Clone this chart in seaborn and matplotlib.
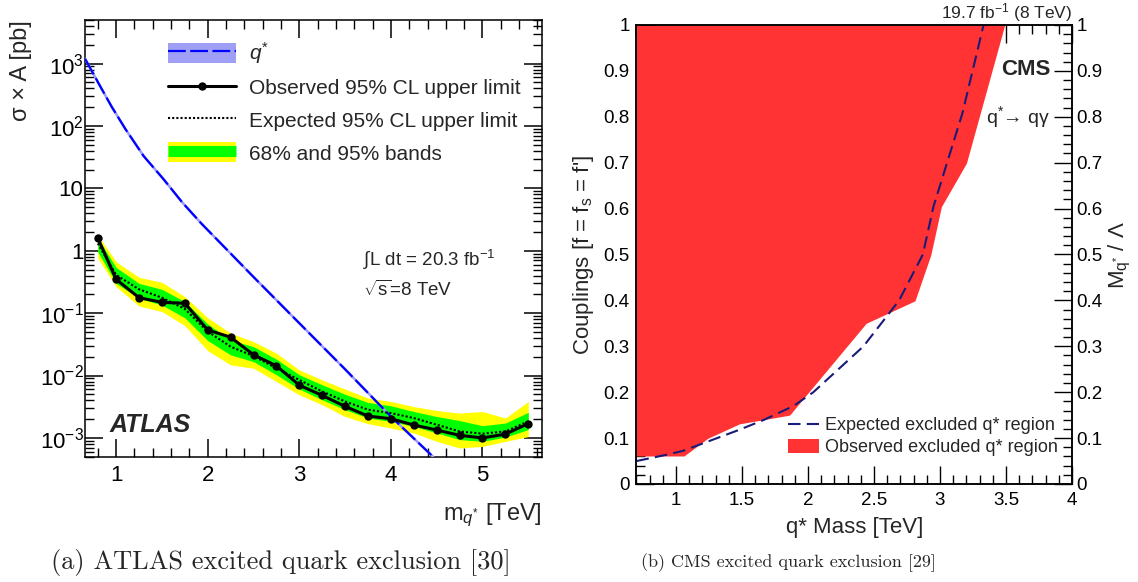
import numpy as np
import pandas as pd
import matplotlib
matplotlib.use('Agg')
import matplotlib.pyplot as plt
from matplotlib.lines import Line2D
from matplotlib.patches import Patch
from matplotlib.ticker import MultipleLocator, LogLocator, NullFormatter
import seaborn as sns

# ---- (a) ATLAS excited quark limits ----
mass_points = [0.8, 1.0, 1.25, 1.5, 1.75, 2.0, 2.25, 2.5, 2.75, 3.0,
               3.25, 3.5, 3.75, 4.0, 4.25, 4.5, 4.75, 5.0, 5.25, 5.5]
observed = [1.6, 0.348, 0.177, 0.149, 0.144, 0.0538, 0.0411, 0.0215, 0.0143, 0.0070,
            0.0048, 0.0032, 0.00224, 0.00203, 0.00161, 0.00134, 0.0011, 0.00100, 0.00115, 0.0017]
expected = [1.31, 0.41, 0.241, 0.177, 0.117, 0.0506, 0.0291, 0.0205, 0.0131, 0.0085,
            0.00555, 0.00384, 0.00283, 0.0025, 0.00208, 0.00163, 0.00127, 0.00117, 0.00127, 0.00184]
green_hi = [1.58, 0.54, 0.30, 0.241, 0.153, 0.067, 0.0372, 0.029, 0.0183, 0.0103,
            0.0071, 0.0050, 0.0037, 0.00327, 0.00265, 0.0022, 0.0019, 0.00157, 0.00173, 0.00257]
green_lo = [0.96, 0.30, 0.173, 0.135, 0.084, 0.0363, 0.0214, 0.0167, 0.0103, 0.00606,
            0.00408, 0.00283, 0.00208, 0.00184, 0.00153, 0.0012, 0.00094, 0.00088, 0.00103, 0.00136]
yellow_hi = [1.78, 0.667, 0.375, 0.312, 0.184, 0.084, 0.0477, 0.035, 0.0228, 0.0123,
             0.0085, 0.00606, 0.00435, 0.00384, 0.00318, 0.00275, 0.0025, 0.00265, 0.00208, 0.00384]
yellow_lo = [0.76, 0.265, 0.130, 0.106, 0.063, 0.025, 0.0148, 0.0131, 0.0080, 0.0049,
             0.0034, 0.0022, 0.00169, 0.00144, 0.0012, 0.00088, 0.00069, 0.00073, 0.00088, 0.00105]

theory_mass = [0.66, 0.81, 0.95, 1.10, 1.30, 1.52, 1.72, 1.93, 2.5, 3.0, 3.5, 4.0, 4.46]
theory_xsec = [1200, 477, 205, 90, 33, 13.9, 6.0, 2.74, 0.38, 0.069, 0.0126, 0.0022, 0.0005]

atlas_yticks = [1e-3, 1e-2, 1e-1, 1, 10, 1e2, 1e3]
atlas_ylabels = ['$10^{-3}$', '$10^{-2}$', '$10^{-1}$', '1', '10', '$10^{2}$', '$10^{3}$']
atlas_xticks = [1, 2, 3, 4, 5]

# ---- (b) CMS excited quark exclusion ----
obs_mass = [1.06, 1.24, 1.48, 1.86, 2.44, 2.81, 2.93, 3.01, 3.20, 3.49]
obs_coupling = [0.061, 0.0995, 0.131, 0.150, 0.350, 0.399, 0.499, 0.604, 0.699, 1.0]
exp_mass = [0.7, 0.9, 1.05, 1.46, 1.66, 1.89, 2.04, 2.42, 2.69, 2.87, 2.95, 3.17, 3.33]
exp_coupling = [0.050, 0.062, 0.072, 0.116, 0.139, 0.170, 0.200, 0.300, 0.400, 0.500, 0.604, 0.808, 1.0]

cms_xticks = [1, 1.5, 2, 2.5, 3, 3.5, 4]
cms_xlabels = ['1', '1.5', '2', '2.5', '3', '3.5', '4']
cms_yticks = [0, 0.1, 0.2, 0.3, 0.4, 0.5, 0.6, 0.7, 0.8, 0.9, 1.0]
cms_ylabels = ['0', '0.1', '0.2', '0.3', '0.4', '0.5', '0.6', '0.7', '0.8', '0.9', '1']

sns.set_theme(style='ticks')
plt.rcParams['font.family'] = ['Liberation Sans', 'DejaVu Sans']
plt.rcParams['mathtext.fontset'] = 'custom'
plt.rcParams['mathtext.rm'] = 'Liberation Sans'
plt.rcParams['mathtext.it'] = 'Liberation Sans:italic'
plt.rcParams['mathtext.bf'] = 'Liberation Sans:bold'
plt.rcParams['axes.linewidth'] = 1.1
plt.rcParams['axes.edgecolor'] = 'black'

fig = plt.figure(figsize=(11.38, 5.82), dpi=100)
ax = fig.add_axes([0.0747, 0.2153, 0.4016, 0.7503])
axc = fig.add_axes([0.5593, 0.1684, 0.3827, 0.7887])

# ---------------- left panel ----------------
ax.set_yscale('log')
ax.fill_between(mass_points, yellow_lo, yellow_hi, color='#ffff00', lw=0, zorder=1)
ax.fill_between(mass_points, green_lo, green_hi, color='#00ff00', lw=0, zorder=2)

theory = pd.DataFrame({'m': theory_mass, 'xs': theory_xsec})
sns.lineplot(data=theory, x='m', y='xs', ax=ax, color='#9a9aff', lw=1.8,
             estimator=None, sort=False, zorder=3)
sns.lineplot(data=theory, x='m', y='xs', ax=ax, color='#0000ff', lw=1.6,
             estimator=None, sort=False, zorder=4)
ax.lines[-1].set_dashes((8, 2))

limits = pd.DataFrame({'m': mass_points, 'obs': observed, 'exp': expected})
sns.lineplot(data=limits, x='m', y='exp', ax=ax, color='black', lw=1.5,
             estimator=None, sort=False, zorder=5)
ax.lines[-1].set_dashes((1, 1))
sns.lineplot(data=limits, x='m', y='obs', ax=ax, color='black', lw=2.2,
             marker='o', markersize=6, markeredgewidth=0,
             estimator=None, sort=False, zorder=6)

ax.set_xlim(0.66, 5.65)
ax.set_ylim(5e-4, 5e3)
ax.set_yticks(atlas_yticks, atlas_ylabels)
ax.set_xticks(atlas_xticks, [str(t) for t in atlas_xticks])
ax.yaxis.set_minor_locator(LogLocator(base=10, subs=np.arange(2, 10), numticks=20))
ax.yaxis.set_minor_formatter(NullFormatter())
ax.xaxis.set_minor_locator(MultipleLocator(0.2))
ax.tick_params(which='both', direction='in', top=True, right=True, colors='black')
ax.tick_params(which='major', length=13, width=1.1, labelsize=16)
ax.tick_params(which='minor', length=6.5, width=1.0)
ax.tick_params(axis='y', pad=1)
ax.tick_params(axis='x', pad=6)

ax.set_ylabel('σ × A [pb]', fontsize=17, loc='top')
ax.yaxis.set_label_coords(-0.139, 1.0)
ax.yaxis.label.set_va('center')
ax.set_xlabel('m$_{q^{*}}$ [TeV]', fontsize=17, loc='right')
ax.xaxis.set_label_coords(1.0, -0.1335)
ax.xaxis.label.set_va('center')

ax.text(0.608, 0.45, r'$\int$L dt = 20.3 fb$^{-1}$', transform=ax.transAxes,
        fontsize=13.5, va='center', ha='left')
ax.text(0.608, 0.382, r'$\sqrt{\rm s}$=8 TeV', transform=ax.transAxes,
        fontsize=13.5, va='center', ha='left')
ax.text(0.054, 0.073, 'ATLAS', transform=ax.transAxes, fontsize=18,
        fontweight='bold', fontstyle='italic', va='center', ha='left')

h_theory = (Patch(facecolor='#9f9ff5', edgecolor='none'),
            Line2D([], [], color='#0000ff', lw=1.6, dashes=(8, 2)))
h_obs = Line2D([], [], color='black', lw=2.2, marker='o', markersize=6, markeredgewidth=0)
h_exp = Line2D([], [], color='black', lw=1.5, dashes=(1, 1))
h_band = (Patch(facecolor='#ffff00', edgecolor='none'),
          Line2D([], [], color='#00ff00', lw=8, solid_capstyle='butt'))
fig.legend([h_theory, h_obs, h_exp, h_band],
           ['$q^{*}$', 'Observed 95% CL upper limit', 'Expected 95% CL upper limit',
            '68% and 95% bands'],
           loc='upper left', bbox_to_anchor=(168 / 1138, 1 - 40 / 582),
           frameon=False, fontsize=15, handlelength=3.25, handleheight=1.1,
           handletextpad=0.65, labelspacing=0.55, borderpad=0, borderaxespad=0)

# ---------------- right panel ----------------
axc.fill_betweenx(obs_coupling, 0.7, obs_mass, color='#ff3333', lw=0, zorder=1)
expdf = pd.DataFrame({'m': exp_mass, 'g': exp_coupling})
sns.lineplot(data=expdf, x='m', y='g', ax=axc, color='#1a1a78', lw=1.5,
             estimator=None, sort=False, zorder=3)
axc.lines[-1].set_dashes((6, 3))

axc.set_xlim(0.7, 4)
axc.set_ylim(0, 1)
axc.set_xticks(cms_xticks, cms_xlabels)
axc.set_yticks(cms_yticks, cms_ylabels)
axc.xaxis.set_minor_locator(MultipleLocator(0.1))
axc.yaxis.set_minor_locator(MultipleLocator(0.02))
axc.tick_params(which='both', direction='in', top=True, right=False, colors='black')
axc.tick_params(which='major', length=13, width=1.0, labelsize=13.5)
axc.tick_params(which='minor', length=6.5, width=1.0)
axc.tick_params(axis='y', pad=5)
axc.tick_params(axis='x', pad=6)
axc.set_xlabel('q* Mass [TeV]', fontsize=16)
axc.xaxis.set_label_coords(0.5, -0.0937)
axc.xaxis.label.set_va('center')
axc.set_ylabel("Couplings [f = f$_{\\mathrm{s}}$ = f']", fontsize=16)
axc.yaxis.set_label_coords(-0.1206, 0.5)
axc.yaxis.label.set_va('center')

axr = axc.twinx()
axr.set_ylim(0, 1)
axr.set_yticks(cms_yticks, cms_ylabels)
axr.yaxis.set_minor_locator(MultipleLocator(0.02))
axr.tick_params(which='both', direction='in', colors='black')
axr.tick_params(which='major', length=13, width=1.0, labelsize=13.5, pad=3)
axr.tick_params(which='minor', length=6.5, width=1.0)
axr.set_ylabel('M$_{\\mathrm{q}^{*}}$ / Λ', fontsize=16)
axr.yaxis.set_label_coords(1.11, 0.5)
axr.yaxis.label.set_va('center')

axc.text(1.0, 1.026, '19.7 fb$^{-1}$ (8 TeV)', transform=axc.transAxes,
         fontsize=12.5, ha='right', va='center')
axc.text(0.95, 0.902, 'CMS', transform=axc.transAxes, fontsize=16,
         fontweight='bold', ha='right', va='center')
axc.text(0.95, 0.80, 'q$^{*}$→ qγ', transform=axc.transAxes, fontsize=14,
         ha='right', va='center')

h_cexp = Line2D([], [], color='#1a1a78', lw=1.5, dashes=(6, 3))
h_cobs = Patch(facecolor='#ff3333', edgecolor='none')
axc.legend([h_cexp, h_cobs], ['Expected excluded q* region', 'Observed excluded q* region'],
           loc='upper left', bbox_to_anchor=(788 / 1138, 1 - 417 / 582),
           bbox_transform=fig.transFigure, frameon=False, fontsize=13,
           handlelength=1.72, handleheight=0.83, handletextpad=0.32,
           labelspacing=0.25, borderpad=0, borderaxespad=0)

# captions
fig.text(281 / 1138, 1 - 563 / 582, '(a) ATLAS excited quark exclusion [30]',
         family='cmr10', fontsize=19, ha='center', va='center')
fig.text(788 / 1138, 1 - 563 / 582, '(b) CMS excited quark exclusion [29]',
         family='cmr10', fontsize=13, ha='center', va='center')

fig.savefig('out.png', dpi=100)
